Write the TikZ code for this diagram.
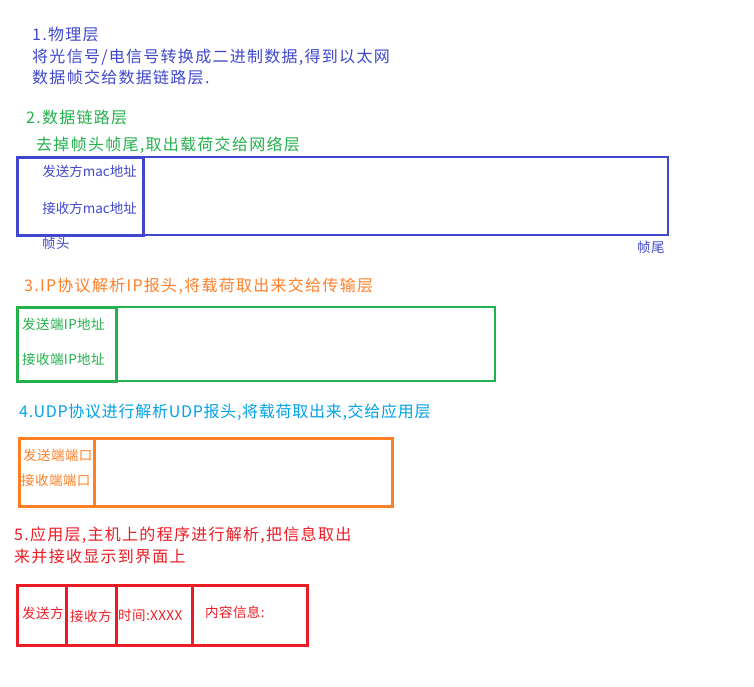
\documentclass[tikz,border=0pt]{standalone}
\usepackage{fontspec}
\newfontfamily\cjkh[LetterSpace=8]{Noto Sans CJK SC}
\newfontfamily\cjkhn[LetterSpace=4.5]{Noto Sans CJK SC}
\newfontfamily\cjkl[LetterSpace=3]{Noto Sans CJK SC}
\newfontfamily\cjkm{Noto Sans CJK SC}
\definecolor{pblue}{RGB}{63,72,204}
\definecolor{pgreen}{RGB}{34,177,76}
\definecolor{porange}{RGB}{255,127,39}
\definecolor{pcyan}{RGB}{0,162,232}
\definecolor{pred}{RGB}{237,28,36}
\tikzset{
  head/.style={anchor=base west, inner sep=0, font=\cjkh\fontsize{16}{21.5}\selectfont},
  lab/.style={inner sep=0, font=\cjkl\fontsize{13.5}{16}\selectfont},
  cell/.style={draw, anchor=north west, inner sep=0},
}
\begin{document}
\begin{tikzpicture}[x=1pt,y=-1pt]
\useasboundingbox[fill=white] (0,0) rectangle (754,687);

% 1
\node[head, text=pblue] (h1a) at (32,41) {1.物理层};
\node[head, text=pblue] (h1b) at (32,63) {将光信号/电信号转换成二进制数据,得到以太网};
\node[head, text=pblue] (h1c) at (32,84) {数据帧交给数据链路层.};

% 2
\node[head, text=pgreen] (h2) at (26,124) {2.数据链路层};
\node[head, text=pgreen] (h2b) at (36,151) {去掉帧头帧尾,取出载荷交给网络层};
\node[cell, draw=pblue, line width=2pt, minimum width=651pt, minimum height=78pt] (dl) at (16,156) {};
\node[cell, draw=pblue, line width=3pt, minimum width=126pt, minimum height=78pt] (dlh) at (16,156) {};
\node[lab, font=\cjkm\fontsize{13.5}{16}\selectfont, text=pblue, anchor=base east] (mac1) at (137,177) {发送方mac地址};
\node[lab, font=\cjkm\fontsize{13.5}{16}\selectfont, text=pblue, anchor=base east] (mac2) at (137,213) {接收方mac地址};
\node[lab, text=pblue, anchor=base west] (zt) at (42,248) {帧头};
\node[lab, text=pblue, anchor=base west] (zw) at (637,252) {帧尾};

% 3
\node[head, text=porange] (h3) at (24,291) {3.IP协议解析IP报头,将载荷取出来交给传输层};
\node[cell, draw=pgreen, line width=2pt, minimum width=478pt, minimum height=74pt] (ip) at (16,306) {};
\node[cell, draw=pgreen, line width=3pt, minimum width=99pt, minimum height=74pt] (iph) at (16,306) {};
\node[lab, text=pgreen, anchor=base west] (ip1) at (22,329) {发送端IP地址};
\node[lab, text=pgreen, anchor=base west] (ip2) at (22,364) {接收端IP地址};

% 4
\node[head, font=\cjkhn\fontsize{16}{21.5}\selectfont, text=pcyan] (h4) at (19,417) {4.UDP协议进行解析UDP报头,将载荷取出来,交给应用层};
\node[cell, draw=porange, line width=3pt, minimum width=373pt, minimum height=68pt] (udp) at (18,437) {};
\node[cell, draw=porange, line width=2.5pt, minimum width=75pt, minimum height=68pt] (udph) at (18,437) {};
\node[lab, text=porange, anchor=base west] (p1) at (23,460) {发送端端口};
\node[lab, text=porange, anchor=base west] (p2) at (21,485) {接收端端口};

% 5
\node[head, text=pred] (h5a) at (14,540) {5.应用层,主机上的程序进行解析,把信息取出};
\node[head, text=pred] (h5b) at (14,562) {来并接收显示到界面上};
\node[cell, draw=pred, line width=2.5pt, minimum width=49pt, minimum height=60pt] (c1) at (16,584) {};
\node[cell, draw=pred, line width=2.5pt, minimum width=50pt, minimum height=60pt] (c2) at (65,584) {};
\node[cell, draw=pred, line width=2.5pt, minimum width=76pt, minimum height=60pt] (c3) at (115,584) {};
\node[cell, draw=pred, line width=2.5pt, minimum width=115pt, minimum height=60pt] (c4) at (191,584) {};
\node[lab, text=pred, anchor=base west] (t1) at (22,618) {发送方};
\node[lab, text=pred, anchor=base west] (t2) at (70,621) {接收方};
\node[lab, text=pred, anchor=base west] (t3) at (118,620) {时间:XXXX};
\node[lab, text=pred, anchor=base west] (t4) at (205,617) {内容信息:};
\end{tikzpicture}
\end{document}
